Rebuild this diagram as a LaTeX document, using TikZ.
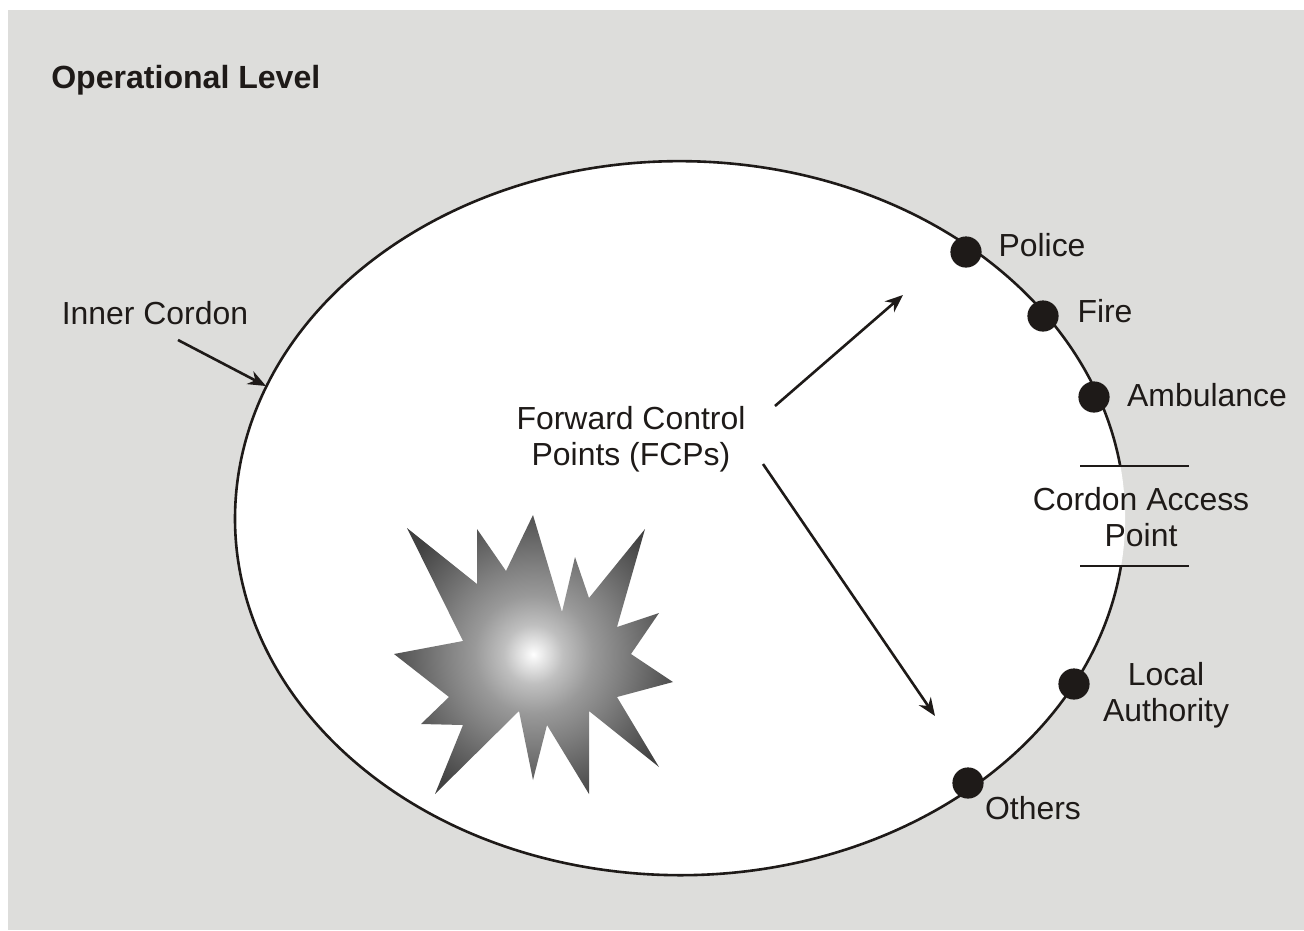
\documentclass[tikz,border=0pt]{standalone}
\usepackage{fontspec}
\setmainfont{Liberation Sans}
\usetikzlibrary{arrows.meta, shapes.geometric}
\definecolor{panelgray}{HTML}{DDDDDB}
\definecolor{inkblack}{HTML}{1E1A18}
\pgfdeclareradialshading{blast}{\pgfpoint{0bp}{0bp}}{color(0bp)=(white); color(0.6bp)=(black!4); color(2.4bp)=(black!15); color(4bp)=(black!25); color(8bp)=(black!40); color(12bp)=(black!50); color(21bp)=(black!74); color(50bp)=(black!85)}
\tikzset{lbl/.style={inner sep=0pt, text=inkblack, align=center, font=\fontsize{22.7}{25.6}\selectfont}}
\tikzset{dot/.style={circle, fill=inkblack, inner sep=0pt, minimum size=0.78cm}}
\tikzset{ln/.style={line width=0.065cm, draw=inkblack}}
\tikzset{pointer/.style={ln, -{Stealth[length=0.45cm, width=0.36cm]}}}

\begin{document}
\begin{tikzpicture}[x=0.025cm, y=-0.025cm]
    \useasboundingbox (0,0) rectangle (1304,930);
    \fill[panelgray] (8,10) rectangle (1304,930);

    \node[ellipse, fill=white, inner sep=0pt, minimum width=22.25cm, minimum height=17.85cm] (cordon) at (680,518) {};
    \draw[ln] (1121,566) arc[start angle=7.7, end angle=351.6, x radius=445, y radius=357];

    % the blast
    \begin{scope}
    \clip (407,528) -- (477,584) -- (477,529) -- (506,571) -- (533,515) -- (562,612) -- (575,557) -- (589,598) -- (645,529) -- (617,627) -- (659,613) -- (631,654) -- (673,682) -- (617,697) -- (659,767) -- (589,711) -- (589,794) -- (547,725) -- (533,780) -- (519,711) -- (435,794) -- (463,725) -- (421,724) -- (449,697) -- (394,654) -- (463,641) -- cycle;
    \shade[shading=blast] (533.3,654.3) circle[radius=185];
    \end{scope}

    \node[lbl, anchor=west, font=\fontsize{22.8}{25.6}\selectfont\bfseries] (title) at (51,80) {Operational Level};

    \node[dot] (police) at (966,252) {};
    \node[dot] (fire) at (1043,316) {};
    \node[dot] (ambulance) at (1094,397) {};
    \node[dot] (local) at (1074,684) {};
    \node[dot] (others) at (968,783) {};

    \node[lbl] (police_txt) at (1042,245) {Police};
    \node[lbl] (fire_txt) at (1105,311) {Fire};
    \node[lbl] (ambulance_txt) at (1207,395) {Ambulance};
    \node[lbl] (access_txt) at (1141,517) {Cordon Access\\Point};
    \node[lbl] (local_txt) at (1166,695) {Local\\Authority};
    \node[lbl] (others_txt) at (1033,808) {Others};
    \node[lbl] (inner_txt) at (155,313) {Inner Cordon};
    \node[lbl] (fcp_txt) at (631,439) {Forward Control\\Points (FCPs)};

    \coordinate (access_top_l) at (1080,466);
    \coordinate (access_top_r) at (1189,466);
    \coordinate (access_bot_l) at (1080,566);
    \coordinate (access_bot_r) at (1189,566);
    \draw[ln] (access_top_l) -- (access_top_r);
    \draw[ln] (access_bot_l) -- (access_bot_r);

    \coordinate (inner_from) at (178,340);
    \coordinate (inner_to) at (266,386);
    \coordinate (fcp_up_from) at (775,406);
    \coordinate (fcp_up_to) at (903,295);
    \coordinate (fcp_down_from) at (763,464);
    \coordinate (fcp_down_to) at (935,716);
    \draw[pointer] (inner_from) -- (inner_to);
    \draw[pointer] (fcp_up_from) -- (fcp_up_to);
    \draw[pointer] (fcp_down_from) -- (fcp_down_to);
\end{tikzpicture}
\end{document}
